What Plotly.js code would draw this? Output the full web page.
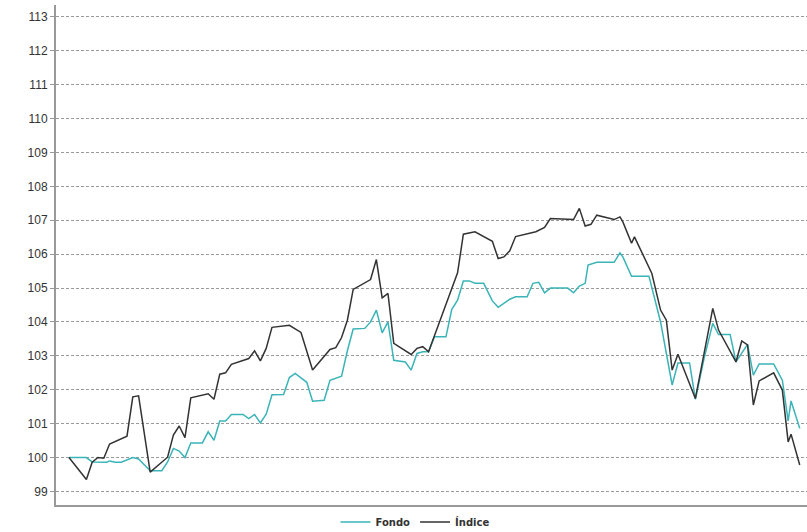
<!DOCTYPE html>
<html>
<head>
<meta charset="utf-8">
<script src="https://cdn.plot.ly/plotly-3.0.1.min.js"></script>
<style>html,body{margin:0;padding:0;background:#fff;}#chart{width:807px;height:532px;}</style>
</head>
<body>
<div id="chart"></div>
<script>
// Trading-day index and values (base 100)
const indiceDays = [0,6,8,10,12,14,20,22,24,28,34,36,38,40,42,48,50,52,54,56,62,64,66,68,70,76,80,84,90,92,94,96,98,104,106,108,110,112,118,120,122,124,134,136,140,146,148,150,152,154,161,164,166,174,176,178,180,182,188,190,191,194,195,201,204,206,208,210,216,219,222,224,230,232,234,236,238,243,246,248,249,252];
const indiceValues = [100.00,99.35,99.86,100.00,99.98,100.40,100.63,101.79,101.82,99.57,100.01,100.66,100.93,100.59,101.76,101.88,101.72,102.46,102.50,102.75,102.92,103.15,102.85,103.22,103.84,103.90,103.69,102.58,103.19,103.24,103.54,104.05,104.96,105.25,105.84,104.71,104.84,103.37,103.04,103.22,103.27,103.12,105.45,106.59,106.66,106.38,105.87,105.92,106.10,106.52,106.66,106.79,107.05,107.02,107.35,106.83,106.88,107.15,107.02,107.10,106.95,106.32,106.51,105.43,104.35,104.05,102.58,103.05,101.74,103.07,104.40,103.76,102.82,103.44,103.32,101.55,102.26,102.50,101.99,100.46,100.69,99.78];

const fondoDays = [0,6,8,13,14,16,18,22,24,26,28,32,34,36,38,40,42,46,48,50,52,54,56,60,62,64,66,68,70,74,76,78,82,84,88,90,92,94,96,98,102,104,106,108,110,112,116,118,120,122,124,126,130,132,134,136,138,140,143,146,148,150,152,154,158,160,162,164,166,172,174,176,178,179,182,188,190,191,194,200,204,208,210,214,216,219,222,224,228,230,234,236,238,243,246,248,249,252];
const fondoValues = [100.00,100.00,99.87,99.86,99.90,99.86,99.86,100.00,99.96,99.78,99.61,99.61,99.87,100.27,100.19,100.00,100.43,100.43,100.76,100.51,101.08,101.08,101.27,101.27,101.15,101.27,101.02,101.28,101.85,101.86,102.36,102.48,102.22,101.66,101.69,102.28,102.35,102.40,103.15,103.79,103.81,104.00,104.35,103.68,104.00,102.87,102.82,102.58,103.07,103.12,103.12,103.56,103.56,104.37,104.64,105.21,105.21,105.14,105.14,104.62,104.43,104.55,104.67,104.74,104.74,105.14,105.17,104.86,105.00,105.00,104.86,105.06,105.14,105.68,105.76,105.76,106.04,105.92,105.35,105.35,104.00,102.14,102.79,102.79,101.72,102.92,103.96,103.63,103.63,102.82,103.34,102.43,102.76,102.76,102.28,101.08,101.67,100.86];

const seriesNames = ['Fondo', 'Índice'];
const yTicks = [99,100,101,102,103,104,105,106,107,108,109,110,111,112,113];

const data = [
  {x: fondoDays, y: fondoValues, name: seriesNames[0], type: 'scatter', mode: 'lines',
   line: {color: '#3bb4b8', width: 1.5}},
  {x: indiceDays, y: indiceValues, name: seriesNames[1], type: 'scatter', mode: 'lines',
   line: {color: '#333333', width: 1.5}}
];

const layout = {
  width: 807, height: 532,
  margin: {l: 56, r: 0, t: 5, b: 27, pad: 0, autoexpand: false},
  paper_bgcolor: '#fff', plot_bgcolor: '#fff',
  showlegend: true,
  legend: {orientation: 'h', x: 0.478, xanchor: 'center', yref: 'container', y: 0.019, yanchor: 'middle',
           font: {family: 'DejaVu Sans', size: 10, color: '#333', weight: 'bold'},
           tracegroupgap: 0},
  xaxis: {range: [-4.48, 254.5], showgrid: false, zeroline: false, showticklabels: false,
          ticks: '', showline: true, linecolor: '#999', linewidth: 1.5, fixedrange: true},
  yaxis: {range: [98.6, 113.35], tickvals: yTicks, ticktext: yTicks.map(String),
          showgrid: true, gridcolor: '#9a9a9a', griddash: '3px,2px', gridwidth: 1,
          zeroline: false, showline: true, linecolor: '#999', linewidth: 2,
          ticks: 'outside', ticklen: 4, tickcolor: '#999', tickwidth: 1,
          tickfont: {family: 'Liberation Sans, Arial', size: 12, color: '#333'}}
};

Plotly.newPlot('chart', data, layout, {displayModeBar: false, staticPlot: true});
</script>
</body>
</html>
